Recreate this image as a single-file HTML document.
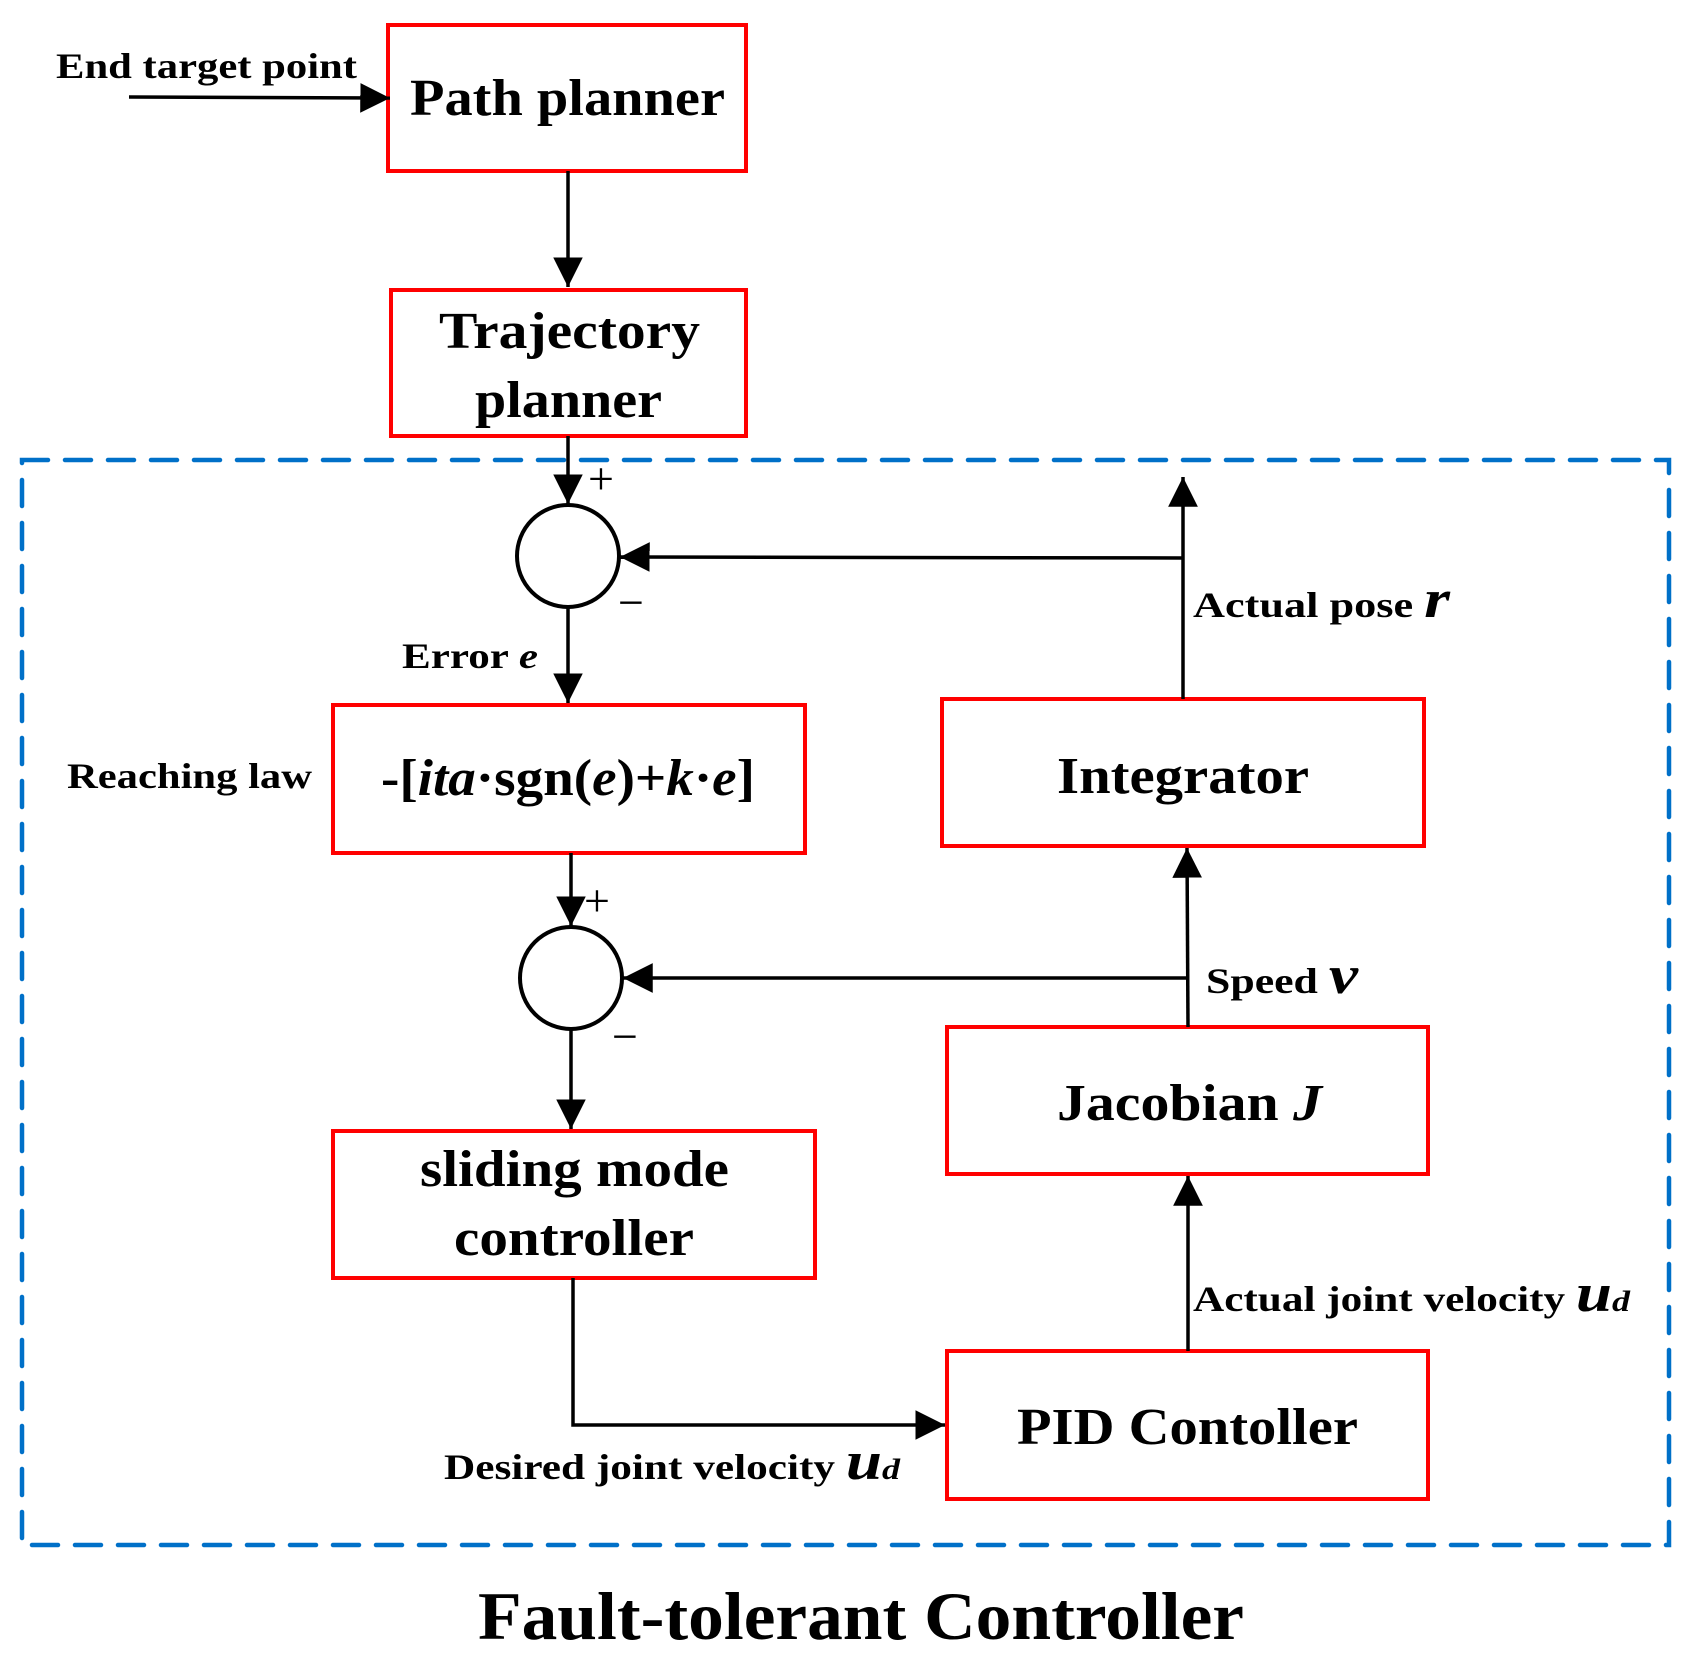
<!DOCTYPE html>
<html><head><meta charset="utf-8"><style>html,body{margin:0;padding:0;background:#fff}svg{display:block}</style></head>
<body>
<svg width="1691" height="1659" viewBox="0 0 1691 1659" xmlns="http://www.w3.org/2000/svg" font-family="'Liberation Serif', serif" font-weight="bold">
<defs>
<marker id="b" viewBox="0 0 10 10" refX="10" refY="5" markerWidth="8.5" markerHeight="8.5" orient="auto"><path d="M0,0 L10,5 L0,10 z" fill="#000"/></marker>
</defs>
<rect x="22" y="460" width="1647" height="1085" fill="none" stroke="#0070C8" stroke-width="4.5" stroke-dasharray="26 17" stroke-linecap="round"/>
<g fill="none" stroke="#f00" stroke-width="4">
<rect x="388" y="25" width="358" height="146"/>
<rect x="391" y="290" width="355" height="146"/>
<rect x="333" y="705" width="472" height="148"/>
<rect x="942" y="699" width="482" height="147"/>
<rect x="947" y="1027" width="481" height="147"/>
<rect x="333" y="1131" width="482" height="147"/>
<rect x="947" y="1351" width="481" height="148"/>
</g>
<circle cx="568" cy="556" r="51" fill="none" stroke="#000" stroke-width="4"/>
<circle cx="571" cy="978" r="51" fill="none" stroke="#000" stroke-width="4"/>
<g stroke="#000" stroke-width="3.5" fill="none" marker-end="url(#b)">
<line x1="129" y1="97" x2="390" y2="98"/>
<line x1="568" y1="171" x2="568" y2="287"/>
<line x1="568" y1="436" x2="568" y2="504"/>
<line x1="568" y1="608" x2="568" y2="703"/>
<line x1="1183" y1="699" x2="1183" y2="477"/>
<line x1="1183" y1="558" x2="620" y2="557"/>
<line x1="571" y1="853" x2="571" y2="926"/>
<line x1="571" y1="1030" x2="571" y2="1129"/>
<line x1="1188" y1="1027" x2="1187" y2="848"/>
<line x1="1188" y1="978" x2="623" y2="978"/>
<line x1="1188" y1="1351" x2="1188" y2="1176"/>
<polyline points="573,1278 573,1425 945,1425"/>
</g>
<g font-family="'Liberation Serif', serif" font-weight="normal" font-size="46">
<text x="588" y="494">+</text>
<text x="618" y="618">−</text>
<text x="584" y="916">+</text>
<text x="612" y="1052">−</text>
</g>
<g font-size="52">
<text x="410" y="115" textLength="315" lengthAdjust="spacingAndGlyphs">Path planner</text>
<text x="439" y="348" textLength="261" lengthAdjust="spacingAndGlyphs">Trajectory</text>
<text x="475" y="417" textLength="187" lengthAdjust="spacingAndGlyphs">planner</text>
<text x="381" y="795" textLength="374" lengthAdjust="spacingAndGlyphs">-[<tspan font-style="italic">ita</tspan>·sgn(<tspan font-style="italic">e</tspan>)+<tspan font-style="italic">k</tspan>·<tspan font-style="italic">e</tspan>]</text>
<text x="1057" y="793" textLength="252" lengthAdjust="spacingAndGlyphs">Integrator</text>
<text x="1057" y="1120" textLength="265" lengthAdjust="spacingAndGlyphs">Jacobian <tspan font-style="italic">J</tspan></text>
<text x="420" y="1186" textLength="309" lengthAdjust="spacingAndGlyphs">sliding mode</text>
<text x="454" y="1255" textLength="240" lengthAdjust="spacingAndGlyphs">controller</text>
<text x="1017" y="1444" textLength="341" lengthAdjust="spacingAndGlyphs">PID Contoller</text>
</g>
<g font-size="36">
<text x="56" y="78" textLength="301" lengthAdjust="spacingAndGlyphs">End target point</text>
<text x="402" y="668" textLength="136" lengthAdjust="spacingAndGlyphs">Error <tspan font-style="italic">e</tspan></text>
<text x="67" y="788" textLength="245" lengthAdjust="spacingAndGlyphs">Reaching law</text>
<text x="1193" y="617" textLength="257" lengthAdjust="spacingAndGlyphs">Actual pose  <tspan font-style="italic" font-size="54">r</tspan></text>
<text x="1206" y="993" textLength="152" lengthAdjust="spacingAndGlyphs">Speed <tspan font-style="italic" font-size="54">v</tspan></text>
<text x="1193" y="1311" textLength="437" lengthAdjust="spacingAndGlyphs">Actual joint velocity <tspan font-style="italic" font-size="54">u</tspan><tspan font-style="italic" font-size="30">d</tspan></text>
<text x="444" y="1479" textLength="456" lengthAdjust="spacingAndGlyphs">Desired joint velocity <tspan font-style="italic" font-size="54">u</tspan><tspan font-style="italic" font-size="30">d</tspan></text>
</g>
<text x="478" y="1639" font-size="68" textLength="766" lengthAdjust="spacingAndGlyphs">Fault-tolerant Controller</text>
</svg>
</body></html>
